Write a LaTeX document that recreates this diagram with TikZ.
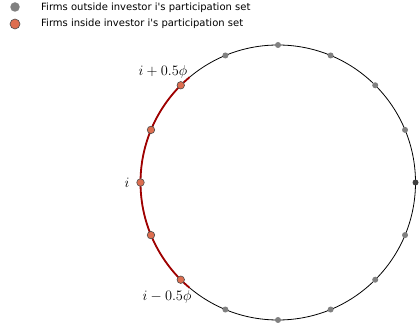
\documentclass[tikz,border=0pt]{standalone}
\usepackage{fontspec}
\newfontfamily\legendfont{DejaVu Sans}
\definecolor{inred}{RGB}{221,110,80}
\definecolor{arcred}{RGB}{160,0,0}
\definecolor{outgray}{RGB}{128,128,128}
\begin{document}
\begin{tikzpicture}[x=1pt,y=1pt,
  outdot/.style={circle,fill=outgray,inner sep=0pt,minimum size=6pt},
  indot/.style={circle,fill=inred,draw=black!70,line width=0.6pt,inner sep=0pt,minimum size=7.5pt},
  legtext/.style={anchor=west,font=\legendfont\fontsize{10}{12}\selectfont,inner sep=0pt},
  mathlab/.style={font=\fontsize{14.5}{17}\selectfont,inner sep=0pt}]
\useasboundingbox (0,0) rectangle (420,326);
\coordinate (C) at (278,143.5);
\def\R{137.5}
\draw[black,line width=0.8pt] (C) circle (\R);
\draw[arcred,line width=1.8pt] ([shift={(130:\R)}]C) arc (130:230:\R);
% outside dots
\foreach \a/\n in {22.5/o1,45/o2,67.5/o3,90/o4,112.5/o5,247.5/o6,270/o7,292.5/o8,315/o9,337.5/o10}
  \node[outdot] (\n) at ([shift={(\a:\R)}]C) {};
\node[outdot,fill=black!75] (o0) at ([shift={(0:\R)}]C) {};
% inside dots
\foreach \a/\n in {135/p2,157.5/p1,180/p0,202.5/m1,225/m2}
  \node[indot] (\n) at ([shift={(\a:\R)}]C) {};
% labels
\node[mathlab] (lp) at (163,254) {$i+0.5\phi$};
\node[mathlab] (li) at (127,143.5) {$i$};
\node[mathlab] (lm) at (167,29) {$i-0.5\phi$};
% legend
\node[outdot,minimum size=9.5pt] (g1) at (15,319) {};
\node[indot,minimum size=10pt] (g2) at (15,302) {};
\node[legtext] (t1) at (41,318) {Firms outside investor i's participation set};
\node[legtext] (t2) at (41,302) {Firms inside investor i's participation set};
\end{tikzpicture}
\end{document}
